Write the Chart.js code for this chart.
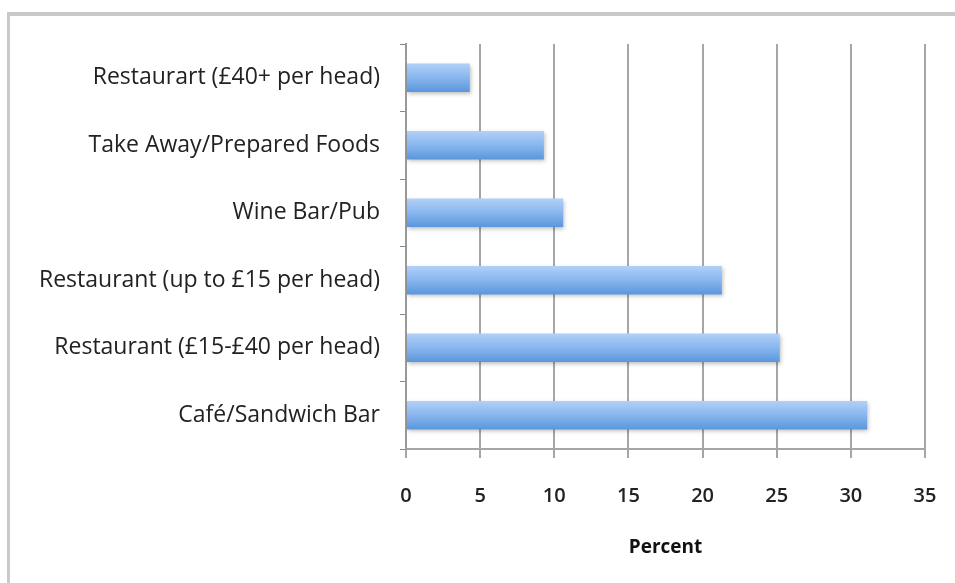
<!DOCTYPE html>
<html>
<head>
<meta charset="utf-8">
<script src="https://cdn.jsdelivr.net/npm/chart.js@4/dist/chart.umd.min.js"></script>
<style>
  html, body { margin: 0; padding: 0; background: #fff; }
  #frame { position: absolute; left: 7px; top: 12px; width: 960px; height: 580px;
           border-top: 4px solid #c9c9c9; border-left: 3px solid #c9c9c9; }
  #wrap { position: absolute; left: 0; top: 0; width: 955px; height: 583px; }
</style>
</head>
<body>
<div id="frame"></div>
<div id="wrap"><canvas id="chart" width="955" height="583"></canvas></div>
<script>
const categories = [
  'Restaurart (£40+ per head)',
  'Take Away/Prepared Foods',
  'Wine Bar/Pub',
  'Restaurant (up to £15 per head)',
  'Restaurant (£15-£40 per head)',
  'Café/Sandwich Bar'
];
const percentValues = [4.3, 9.3, 10.6, 21.3, 25.2, 31.1];
const xTicks = [0, 5, 10, 15, 20, 25, 30, 35];

const fontFamily = '"Open Sans", sans-serif';

function barGradient(context) {
  const chart = context.chart;
  const y = chart.scales.y;
  if (!y || y.top === undefined) return '#7aaeea';
  const c = y.getPixelForValue(context.dataIndex);
  const h = 14;
  const g = chart.ctx.createLinearGradient(0, c - h, 0, c + h);
  g.addColorStop(0, '#b0d0f8');
  g.addColorStop(0.5, '#88b6ee');
  g.addColorStop(1, '#5b97dc');
  return g;
}

// soft drop shadow under the bars
const shadowPlugin = {
  id: 'barShadow',
  beforeDatasetDraw(chart) {
    const ctx = chart.ctx;
    ctx.save();
    ctx.shadowColor = 'rgba(0,0,0,0.25)';
    ctx.shadowBlur = 4;
    ctx.shadowOffsetX = 1;
    ctx.shadowOffsetY = 2;
  },
  afterDatasetDraw(chart) {
    chart.ctx.restore();
  }
};

new Chart(document.getElementById('chart').getContext('2d'), {
  type: 'bar',
  data: {
    labels: categories,
    datasets: [{
      label: 'Percent',
      data: percentValues,
      backgroundColor: barGradient,
      borderWidth: 0,
      barPercentage: 0.42,
      categoryPercentage: 1
    }]
  },
  options: {
    indexAxis: 'y',
    responsive: false,
    animation: false,
    layout: { padding: { left: 0, top: 44, right: 30, bottom: 0 } },
    plugins: { legend: { display: false }, tooltip: { enabled: false } },
    scales: {
      x: {
        min: 0, max: 35,
        afterBuildTicks: s => { s.ticks = xTicks.map(v => ({ value: v })); },
        afterFit: s => { s.height = 134; s.paddingLeft = 0; s.paddingRight = 0; },
        grid: { color: '#a6a6a6', lineWidth: 2, tickLength: 9, drawTicks: true },
        border: { color: '#a6a6a6', width: 2 },
        ticks: { color: '#222', font: { family: fontFamily, size: 20, weight: '600' }, padding: 26 },
        title: { display: true, text: 'Percent', color: '#111',
                 font: { family: fontFamily, size: 19, weight: 'bold' },
                 padding: { top: 0, bottom: 24 } }
      },
      y: {
        afterFit: s => { s.width = 406; },
        grid: { offset: true, drawOnChartArea: false, tickLength: 6, color: '#888' },
        border: { color: '#999', width: 2 },
        ticks: { color: '#222', font: { family: fontFamily, size: 23 }, padding: 20 }
      }
    }
  },
  plugins: [shadowPlugin]
});
</script>
</body>
</html>
